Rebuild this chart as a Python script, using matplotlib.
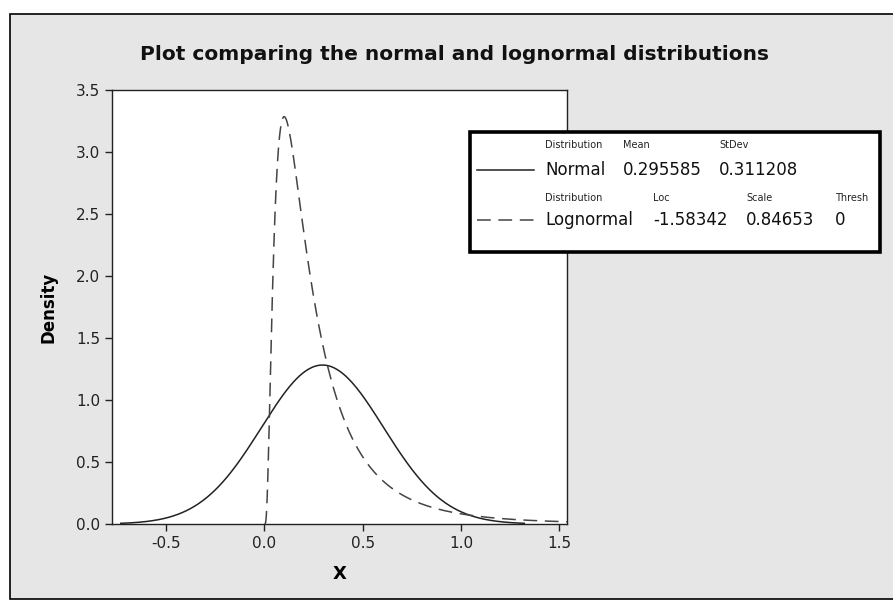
import numpy as np
import matplotlib

matplotlib.use("Agg")
import matplotlib.pyplot as plt
from matplotlib.patches import Rectangle
from matplotlib.lines import Line2D

# ---- distribution parameters (from the legend) ----
norm_mean = 0.295585
norm_sd = 0.311208
logn_loc = -1.58342
logn_scale = 0.84653
logn_thresh = 0

x_ticks = [-0.5, 0.0, 0.5, 1.0, 1.5]
y_ticks = [0.0, 0.5, 1.0, 1.5, 2.0, 2.5, 3.0, 3.5]

W, H = 893, 602
fig = plt.figure(figsize=(W / 100, H / 100), dpi=100, facecolor="white")


def fx(px):
    return px / W


def fy(py):
    return 1 - py / H


# gray panel with thin black frame (right edge runs off the image)
fig.patches.append(Rectangle((fx(10), fy(599)), fx(890), (599 - 14) / H,
                             transform=fig.transFigure, facecolor="#e6e6e6",
                             edgecolor="black", linewidth=1.2, zorder=-10))

ax = fig.add_axes([fx(112), fy(524), fx(567 - 112), (524 - 90) / H])
ax.set_facecolor("white")

# normal density over mean +/- 3.3 sd
xn = np.linspace(norm_mean - 3.3 * norm_sd, norm_mean + 3.3 * norm_sd, 400)
yn = np.exp(-0.5 * ((xn - norm_mean) / norm_sd) ** 2) / (norm_sd * np.sqrt(2 * np.pi))

# lognormal density
xl = np.linspace(logn_thresh + 1e-4, 1.54, 800)
z = np.log(xl - logn_thresh)
yl = np.exp(-0.5 * ((z - logn_loc) / logn_scale) ** 2) / ((xl - logn_thresh) * logn_scale * np.sqrt(2 * np.pi))

ax.plot(xn, yn, color="#222222", lw=1.1)
ax.plot(xl, yl, color="#444444", lw=1.1, dashes=(9, 5))

ax.set_xlim(-0.776, 1.54)
ax.set_ylim(0, 3.5)
ax.set_xticks(x_ticks)
ax.set_yticks(y_ticks)
ax.set_xticklabels([f"{v:.1f}" for v in x_ticks])
ax.set_yticklabels([f"{v:.1f}" for v in y_ticks])
ax.tick_params(direction="out", length=5, width=1, labelsize=11, colors="#222222")
for s in ax.spines.values():
    s.set_linewidth(1.0)
    s.set_color("#222222")

ax.set_xlabel("X", fontsize=13, fontweight="bold", labelpad=10)
ax.set_ylabel("Density", fontsize=12, fontweight="bold", labelpad=13)

fig.text(fx(454), fy(55), "Plot comparing the normal and lognormal distributions",
         ha="center", va="center", fontsize=14.5, fontweight="bold", color="#111111")

# ---- legend table ----
fig.patches.append(Rectangle((fx(470), fy(252)), fx(880 - 470), (252 - 132) / H,
                             transform=fig.transFigure, facecolor="white",
                             edgecolor="black", linewidth=2.6, zorder=3))
fig.lines.append(Line2D([fx(477), fx(534)], [fy(170), fy(170)], transform=fig.transFigure,
                        color="#222222", lw=1.1, zorder=4))
fig.lines.append(Line2D([fx(477), fx(534)], [fy(220), fy(220)], transform=fig.transFigure,
                        color="#444444", lw=1.1, dashes=(9, 5), zorder=4))

small = dict(fontsize=7, va="center", ha="left", zorder=5, color="#222222")
big = dict(fontsize=12, va="center", ha="left", zorder=5, color="#111111")

fig.text(fx(545), fy(145), "Distribution", **small)
fig.text(fx(623), fy(145), "Mean", **small)
fig.text(fx(719), fy(145), "StDev", **small)
fig.text(fx(545), fy(170), "Normal", **big)
fig.text(fx(623), fy(170), f"{norm_mean:.6f}", **big)
fig.text(fx(719), fy(170), f"{norm_sd:.6f}", **big)

fig.text(fx(545), fy(198), "Distribution", **small)
fig.text(fx(653), fy(198), "Loc", **small)
fig.text(fx(746), fy(198), "Scale", **small)
fig.text(fx(835), fy(198), "Thresh", **small)
fig.text(fx(545), fy(220), "Lognormal", **big)
fig.text(fx(653), fy(220), f"{logn_loc:.5f}", **big)
fig.text(fx(746), fy(220), f"{logn_scale:.5f}", **big)
fig.text(fx(835), fy(220), f"{logn_thresh}", **big)

fig.savefig("out.png", dpi=100, facecolor=fig.get_facecolor())
